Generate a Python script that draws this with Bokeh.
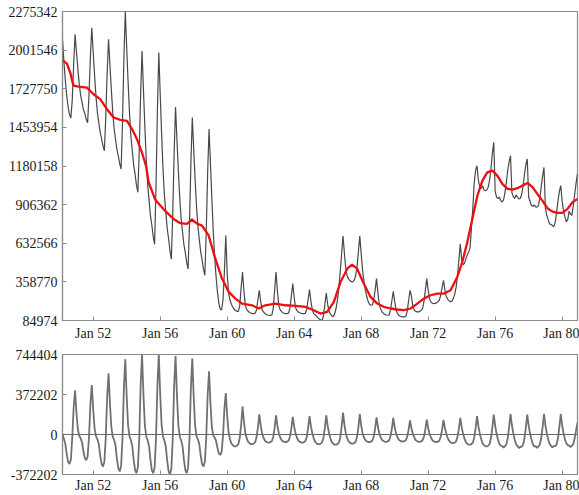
from bokeh.plotting import figure
from bokeh.layouts import column
from bokeh.models import Range1d, FixedTicker, NumeralTickFormatter, Span
from bokeh.embed import file_html
from bokeh.resources import INLINE

# ---------------- data (values in thousands) ----------------
start_year = 1950
start_month = 3   # first observation: Mar 1950, monthly through Dec 1980

observed = [
    2078, 1920, 1790, 1680, 1600, 1545, 1520, 1650, 1900, 2113,              # 1950 Mar-Dec
    1988, 1869, 1762, 1681, 1631, 1581, 1550, 1512, 1487, 1689, 1958, 2160,  # 1951
    1986, 1820, 1672, 1558, 1489, 1419, 1375, 1323, 1288, 1525, 1841, 2078,  # 1952
    1894, 1720, 1563, 1444, 1370, 1297, 1251, 1196, 1159, 1494, 1940, 2275,  # 1953
    2019, 1775, 1558, 1391, 1289, 1186, 1122, 1045, 994, 1294, 1695, 1995,   # 1954
    1721, 1461, 1228, 1050, 940, 830, 762, 680, 625, 1033, 1576, 1984,       # 1955
    1691, 1413, 1164, 974, 857, 740, 666, 579, 520, 843, 1275, 1598,         # 1956
    1368, 1150, 955, 806, 714, 622, 565, 496, 450, 772, 1202, 1524,          # 1957
    1300, 1088, 897, 752, 662, 573, 517, 450, 405, 716, 1131, 1442,          # 1958
    1200, 950, 720, 540, 400, 290, 210, 165, 160, 230, 430, 688,             # 1959
    420, 280, 230, 200, 180, 165, 155, 150, 150, 190, 320, 429,              # 1960
    290, 190, 165, 150, 142, 138, 134, 134, 136, 160, 230, 299,              # 1961
    220, 160, 145, 135, 128, 124, 122, 122, 125, 170, 300, 429,              # 1962
    290, 190, 160, 148, 140, 136, 134, 134, 138, 175, 260, 346,              # 1963
    250, 175, 155, 145, 140, 136, 134, 134, 136, 165, 235, 304,              # 1964
    220, 160, 135, 125, 115, 105, 95, 88, 85, 120, 200, 280,                 # 1965
    200, 150, 130, 118, 111, 130, 170, 230, 320, 430, 560, 683,              # 1966
    560, 450, 400, 380, 368, 360, 358, 370, 400, 460, 570, 683,              # 1967
    560, 440, 360, 300, 255, 220, 200, 193, 195, 230, 300, 382,              # 1968
    280, 200, 165, 145, 135, 128, 124, 122, 124, 160, 225, 292,              # 1969
    220, 160, 135, 122, 115, 112, 111, 111, 115, 150, 225, 299,              # 1970
    260, 185, 160, 150, 146, 146, 150, 158, 170, 220, 300, 382,              # 1971
    300, 240, 215, 207, 205, 206, 210, 218, 230, 265, 320, 370,              # 1972
    300, 255, 235, 225, 217, 222, 240, 270, 320, 400, 510, 629,              # 1973
    520, 480, 490, 520, 550, 570, 600, 740, 880, 1060, 1150, 1182,           # 1974
    1080, 1030, 1020, 1040, 1010, 1005, 1010, 1030, 1080, 1160, 1270, 1348,  # 1975
    1000, 960, 950, 960, 935, 925, 940, 990, 1060, 1150, 1210, 1253,         # 1976
    990, 965, 950, 975, 960, 947, 950, 980, 1040, 1120, 1190, 1230,          # 1977
    960, 930, 900, 895, 905, 890, 888, 900, 950, 1030, 1110, 1170,           # 1978
    880, 830, 800, 770, 765, 758, 750, 780, 850, 930, 1000, 1041,            # 1979
    930, 860, 820, 785, 800, 860, 840, 830, 900, 980, 1060, 1124,            # 1980
]

seasonal = [
    5, -40, -85, -180, -253, -275, -234, -28, 254, 410,                      # 1950 Mar-Dec
    205, 49, -12, -36, -72, -156, -221, -240, -204, -24, 286, 461,           # 1951
    231, 55, -15, -45, -89, -194, -274, -298, -253, -30, 353, 569,           # 1952
    285, 68, -17, -52, -103, -224, -316, -344, -292, -34, 435, 701,          # 1953
    351, 84, -18, -54, -108, -234, -331, -360, -306, -36, 461, 744,          # 1954
    372, 89, -18, -54, -108, -234, -331, -360, -306, -36, 459, 741,          # 1955
    371, 89, -19, -56, -112, -242, -342, -372, -316, -37, 454, 732,          # 1956
    366, 88, -18, -54, -108, -234, -331, -360, -306, -36, 439, 708,          # 1957
    354, 85, -15, -45, -89, -194, -274, -298, -253, -30, 365, 588,           # 1958
    294, 71, -10, -29, -57, -124, -176, -191, -162, -19, 239, 385,           # 1959
    173, 19, -44, -83, -99, -110, -110, -105, -88, -33, 91, 261,             # 1960
    117, 13, -36, -68, -81, -90, -90, -86, -72, -27, 65, 187,                # 1961
    84, 9, -30, -56, -68, -75, -75, -71, -60, -23, 62, 178,                  # 1962
    80, 9, -28, -53, -63, -70, -70, -67, -56, -21, 57, 163,                  # 1963
    73, 8, -30, -56, -68, -75, -75, -71, -60, -23, 60, 172,                  # 1964
    77, 9, -36, -68, -81, -90, -90, -86, -72, -27, 62, 178,                  # 1965
    80, 9, -38, -71, -86, -95, -95, -90, -76, -29, 71, 203,                  # 1966
    91, 10, -34, -64, -77, -85, -85, -81, -68, -26, 67, 191,                 # 1967
    86, 10, -28, -53, -63, -70, -70, -67, -56, -21, 56, 160,                 # 1968
    72, 8, -27, -51, -61, -68, -68, -65, -54, -20, 54, 154,                  # 1969
    69, 8, -26, -49, -59, -65, -65, -62, -52, -20, 46, 132,                  # 1970
    59, 7, -27, -51, -61, -68, -68, -65, -54, -20, 48, 138,                  # 1971
    62, 7, -28, -53, -63, -70, -70, -67, -56, -21, 47, 135,                  # 1972
    61, 7, -32, -60, -72, -80, -80, -76, -64, -24, 54, 154,                  # 1973
    69, 8, -38, -71, -86, -95, -95, -90, -76, -29, 60, 172,                  # 1974
    77, 9, -44, -83, -99, -110, -110, -105, -88, -33, 65, 185,               # 1975
    83, 9, -46, -86, -104, -108, -122, -109, -92, -35, 67, 191,              # 1976
    86, 10, -48, -90, -108, -126, -114, -114, -96, -36, 65, 185,             # 1977
    83, 9, -47, -89, -112, -109, -124, -112, -94, -35, 67, 191,              # 1978
    86, 10, -46, -86, -104, -120, -108, -109, -92, -35, 67, 191,             # 1979
    86, 10, -44, -83, -99, -104, -116, -105, -88, -33, 40, 110,              # 1980
]

trend_years = [
    1950.17, 1950.43, 1950.63, 1950.82, 1951.12, 1951.63, 1952.02, 1952.42, 1952.82,
    1953.22, 1953.62, 1954.02, 1954.32, 1954.61, 1954.91, 1955.15, 1955.31, 1955.71,
    1956.01, 1956.31, 1956.80, 1957.20, 1957.60, 1957.90, 1958.20, 1958.50, 1958.89,
    1959.29, 1959.69, 1960.09, 1960.49, 1960.89, 1961.49, 1961.88, 1962.28, 1962.88,
    1963.48, 1964.08, 1964.67, 1965.17, 1965.57, 1965.97, 1966.37, 1966.77, 1967.17,
    1967.46, 1967.76, 1968.16, 1968.56, 1968.96, 1969.35, 1969.75, 1970.15, 1970.55,
    1970.95, 1971.35, 1971.74, 1972.15, 1972.55, 1972.94, 1973.34, 1973.74, 1974.04,
    1974.34, 1974.64, 1974.94, 1975.24, 1975.53, 1975.83, 1976.13, 1976.43, 1976.73,
    1977.03, 1977.33, 1977.63, 1977.93, 1978.23, 1978.52, 1978.82, 1979.12, 1979.42,
    1979.72, 1980.02, 1980.32, 1980.62, 1980.92,
]
trend = [
    1930, 1906, 1842, 1750, 1743, 1736, 1689, 1654, 1583,
    1524, 1507, 1500, 1442, 1371, 1277, 1182, 1065, 940,
    900, 860, 805, 775, 770, 801, 772, 758, 688,
    523, 382, 288, 240, 205, 193, 170, 193, 205,
    193, 189, 182, 158, 134, 146, 217, 358, 452,
    481, 452, 346, 252, 205, 182, 170, 163, 158,
    170, 205, 240, 264, 276, 276, 299, 394, 500,
    641, 806, 970, 1076, 1135, 1147, 1112, 1053, 1018,
    1013, 1023, 1041, 1060, 1030, 982, 935, 881, 857,
    848, 848, 876, 924, 947,
]

top_ticks = [84974, 358770, 632566, 906362, 1180158, 1453954, 1727750, 2001546, 2275342]
bottom_ticks = [-372202, 0, 372202, 744404]
year_ticks = [1952, 1956, 1960, 1964, 1968, 1972, 1976, 1980]
year_labels = ["Jan 52", "Jan 56", "Jan 60", "Jan 64", "Jan 68", "Jan 72", "Jan 76", "Jan 80"]

# ---------------- derived ----------------
months = [start_year + (start_month - 1 + i) / 12.0 for i in range(len(observed))]
obs_vals = [v * 1000 for v in observed]
sea_vals = [v * 1000 for v in seasonal]
trend_vals = [v * 1000 for v in trend]

x_lo, x_hi = months[0], months[-1]
FONT = "Liberation Serif"
GRAY = "#8a8a8a"


def style(p, yticks, xstandoff):
    p.outline_line_color = GRAY
    p.outline_line_width = 1.2
    p.xgrid.visible = False
    p.ygrid.visible = False
    for ax in (p.xaxis[0], p.yaxis[0]):
        ax.axis_line_color = GRAY
        ax.axis_line_width = 1.2
        ax.major_tick_line_color = GRAY
        ax.major_tick_in = 4
        ax.major_tick_out = 0
        ax.minor_tick_line_color = None
        ax.major_label_text_font = FONT
        ax.major_label_text_font_size = "14px"
        ax.major_label_text_color = "#1a1a1a"
    p.xaxis[0].ticker = FixedTicker(ticks=year_ticks)
    p.xaxis[0].major_label_overrides = {t: l for t, l in zip(year_ticks, year_labels)}
    p.xaxis[0].major_label_standoff = xstandoff
    p.yaxis[0].ticker = FixedTicker(ticks=yticks)
    p.yaxis[0].formatter = NumeralTickFormatter(format="0")
    p.yaxis[0].major_label_standoff = 5


p1 = figure(width=579, height=343, output_backend="svg", toolbar_location=None,
            x_range=Range1d(x_lo, x_hi), y_range=Range1d(top_ticks[0], top_ticks[-1]),
            min_border_left=62, min_border_right=2, min_border_top=11, min_border_bottom=22,
            background_fill_color="white", border_fill_color="white")
style(p1, top_ticks, 5)
p1.line(months, obs_vals, line_color="#484848", line_width=1.2)
p1.line(trend_years, trend_vals, line_color="#ee1010", line_width=2.3)

p2 = figure(width=579, height=152, output_backend="svg", toolbar_location=None,
            x_range=Range1d(x_lo, x_hi), y_range=Range1d(bottom_ticks[0], bottom_ticks[-1]),
            min_border_left=62, min_border_right=2, min_border_top=11, min_border_bottom=20,
            background_fill_color="white", border_fill_color="white")
style(p2, bottom_ticks, 3)
p2.add_layout(Span(location=0, dimension="width", line_color="#6a6a6a", line_width=1.2))
p2.line(months, sea_vals, line_color="#707070", line_width=1.8)

layout = column(p1, p2, spacing=0)
open("out.html", "w").write(file_html(layout, INLINE))
